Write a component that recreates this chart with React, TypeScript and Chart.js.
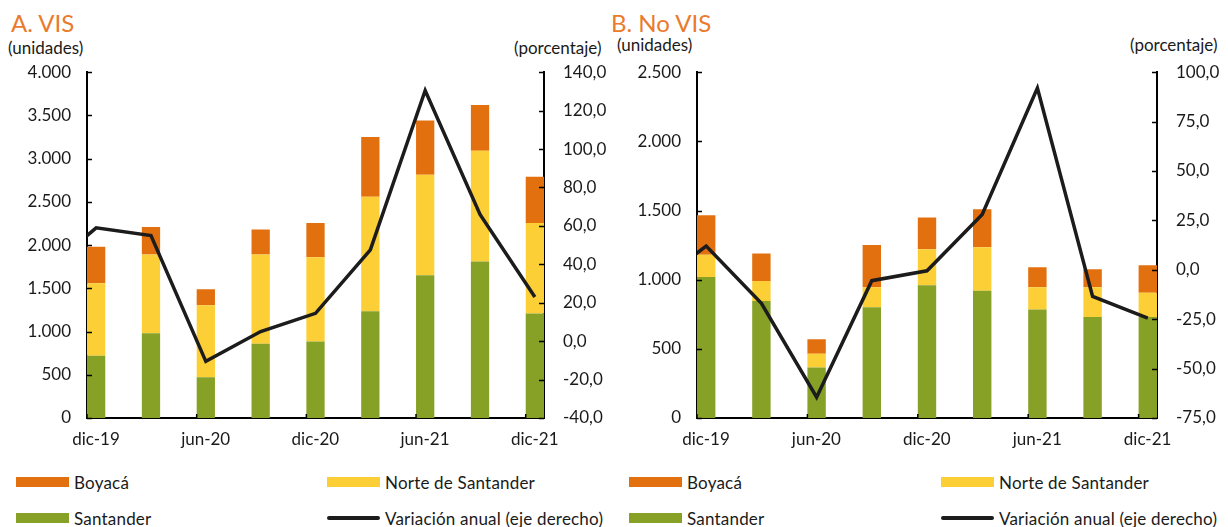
import React, { useEffect, useRef } from 'react';
import { Chart, registerables } from 'chart.js';

Chart.register(...registerables);

// ---------- data ----------
const categories = ['dic-19', 'mar-20', 'jun-20', 'sep-20', 'dic-20', 'mar-21', 'jun-21', 'sep-21', 'dic-21'];
// the variation line also has the previous quarter (drawn clipped at the left axis)
const variationCategories = ['sep-19', ...categories];
const xTickLabels = ['dic-19', 'jun-20', 'dic-20', 'jun-21', 'dic-21'];

const visSantander = [720, 980, 470, 860, 885, 1235, 1650, 1810, 1210];
const visNorte = [840, 910, 835, 1030, 975, 1325, 1165, 1280, 1045];
const visBoyaca = [420, 320, 185, 290, 395, 690, 625, 530, 535];
const visVariation = [34.5, 59, 55, -10.5, 5, 14.5, 47.5, 130.5, 66, 23];

const noVisSantander = [1020, 845, 365, 800, 960, 920, 785, 730, 730];
const noVisNorte = [160, 145, 100, 145, 260, 315, 160, 215, 175];
const noVisBoyaca = [285, 200, 105, 305, 230, 275, 145, 130, 200];
const noVisVariation = [-9, 12, -17, -64.5, -5.5, -0.5, 28, 92, -13.5, -24.5];

const seriesNames = ['Boyacá', 'Norte de Santander', 'Santander', 'Variación anual (eje derecho)'];

// ---------- styles ----------
const C_BOYACA = '#E3700F';
const C_NORTE = '#FDCF36';
const C_SANTANDER = '#87A126';
const C_LINE = '#1c1c1c';
const C_TITLE = '#EA7A2C';
const C_TEXT = '#1a1a1a';
const FONT = 'Lato, "Open Sans", sans-serif';

Chart.defaults.font.family = FONT;
Chart.defaults.font.size = 17;
Chart.defaults.color = C_TEXT;

const MONTHS = ['ene', 'feb', 'mar', 'abr', 'may', 'jun', 'jul', 'ago', 'sep', 'oct', 'nov', 'dic'];
function monthIndex(label: string): number {
  const [m, y] = label.split('-');
  return (2000 + Number(y)) * 12 + MONTHS.indexOf(m) - (2019 * 12 + 11);
}
const slotCenter = (label: string) => monthIndex(label) + 0.5;
const X_MIN = monthIndex(xTickLabels[0]);
const X_MAX = monthIndex(categories[categories.length - 1]) + 1;

const fmtThousands = (v: number) => String(Math.round(v)).replace(/\B(?=(\d{3})+(?!\d))/g, '.');
const fmtPct = (v: number) => Number(v).toFixed(1).replace('.', ',');

const innerTicks = {
  id: 'innerTicks',
  afterDraw(chart: any) {
    const ctx = chart.ctx;
    const { left, right, bottom } = chart.chartArea;
    const len = 5;
    ctx.save();
    ctx.strokeStyle = '#000';
    ctx.lineWidth = 1.5;
    ctx.beginPath();
    const y = chart.scales.y;
    y.ticks.forEach((_t: any, i: number) => {
      const p = Math.round(y.getPixelForTick(i)) + 0.5;
      ctx.moveTo(left, p);
      ctx.lineTo(left + len, p);
    });
    const y1 = chart.scales.y1;
    y1.ticks.forEach((_t: any, i: number) => {
      const p = Math.round(y1.getPixelForTick(i)) + 0.5;
      ctx.moveTo(right, p);
      ctx.lineTo(right - len, p);
    });
    const x = chart.scales.x;
    x.ticks.forEach((_t: any, i: number) => {
      const p = x.getPixelForTick(i);
      ctx.moveTo(p, bottom);
      ctx.lineTo(p, bottom - len + 1);
    });
    ctx.stroke();
    ctx.restore();
  },
};

type PanelProps = {
  left: number;
  title: string;
  santander: number[];
  norte: number[];
  boyaca: number[];
  variation: number[];
  yMax: number;
  yStep: number;
  y1Min: number;
  y1Max: number;
  y1Step: number;
  leftAxisWidth: number;
  rightAxisWidth: number;
  unitsTop: number;
  pctLeft: number;
  titleLeft: number;
  unitsLeft: number;
  legendCol1: number;
  legendCol2: number;
};

const CANVAS_W = 614;
const CANVAS_H = 415;
const CANVAS_TOP = 43;

function Panel(p: PanelProps) {
  const ref = useRef<HTMLCanvasElement>(null);
  useEffect(() => {
    if (!ref.current) return;
    const border = { display: true, color: '#000', width: 2 };
    const chart = new Chart(ref.current, {
      type: 'bar',
      data: {
        datasets: [
          {
            type: 'line',
            label: seriesNames[3],
            data: variationCategories.map((c, i) => ({ x: slotCenter(c), y: p.variation[i] })),
            yAxisID: 'y1',
            borderColor: C_LINE,
            backgroundColor: C_LINE,
            borderWidth: 3.5,
            pointRadius: 0,
            tension: 0,
            order: 0,
          } as any,
          {
            label: seriesNames[2],
            data: categories.map((c, i) => ({ x: slotCenter(c), y: p.santander[i] })),
            backgroundColor: C_SANTANDER,
            yAxisID: 'y',
            order: 1,
            barPercentage: 1,
            categoryPercentage: 1 / 3,
          },
          {
            label: seriesNames[1],
            data: categories.map((c, i) => ({ x: slotCenter(c), y: p.norte[i] })),
            backgroundColor: C_NORTE,
            yAxisID: 'y',
            order: 1,
            barPercentage: 1,
            categoryPercentage: 1 / 3,
          },
          {
            label: seriesNames[0],
            data: categories.map((c, i) => ({ x: slotCenter(c), y: p.boyaca[i] })),
            backgroundColor: C_BOYACA,
            yAxisID: 'y',
            order: 1,
            barPercentage: 1,
            categoryPercentage: 1 / 3,
          },
        ],
      },
      options: {
        animation: false,
        responsive: false,
        layout: { padding: { top: 0, left: 0, right: 0, bottom: 0 } },
        plugins: { legend: { display: false }, tooltip: { enabled: false } },
        scales: {
          x: {
            type: 'linear',
            min: X_MIN,
            max: X_MAX,
            offset: false,
            stacked: true,
            grid: { display: false, drawTicks: false, offset: false },
            border,
            afterBuildTicks: (s: any) => {
              s.ticks = xTickLabels.map((l) => ({ value: monthIndex(l) }));
            },
            afterFit: (s: any) => {
              s.height = 40;
            },
            ticks: {
              padding: 11,
              labelOffset: 9,
              autoSkip: false,
              maxRotation: 0,
              callback: (v: any) => {
                const l = xTickLabels.find((t) => monthIndex(t) === Number(v));
                return l ?? '';
              },
            },
          },
          y: {
            type: 'linear',
            position: 'left',
            stacked: true,
            min: 0,
            max: p.yMax,
            grid: { display: false, drawTicks: false },
            border,
            afterFit: (s: any) => {
              s.width = p.leftAxisWidth;
            },
            ticks: { stepSize: p.yStep, padding: 16, callback: (v: any) => fmtThousands(Number(v)) },
          },
          y1: {
            type: 'linear',
            position: 'right',
            min: p.y1Min,
            max: p.y1Max,
            grid: { display: false, drawTicks: false },
            border,
            afterFit: (s: any) => {
              s.width = p.rightAxisWidth;
            },
            ticks: { stepSize: p.y1Step, padding: 19, callback: (v: any) => fmtPct(Number(v)) },
          },
        },
      } as any,
      plugins: [innerTicks],
    });
    return () => chart.destroy();
  }, []);

  const legendItem = (x: number, cy: number, color: string, text: string, isLine = false) => (
    <div
      style={{
        position: 'absolute',
        left: x,
        top: cy - 12,
        height: 24,
        display: 'flex',
        alignItems: 'center',
        whiteSpace: 'nowrap',
      }}
    >
      <div
        style={{
          width: 53,
          height: isLine ? 4 : 10,
          borderRadius: isLine ? 2 : 0,
          background: color,
          marginRight: 5,
        }}
      />
      <span style={{ fontSize: 17, color: C_TEXT, letterSpacing: 0.2 }}>{text}</span>
    </div>
  );

  return (
    <>
      <div
        style={{
          position: 'absolute',
          left: p.titleLeft,
          top: 8,
          fontSize: 24,
          color: C_TITLE,
          whiteSpace: 'nowrap',
        }}
      >
        {p.title}
      </div>
      <div style={{ position: 'absolute', left: p.unitsLeft, top: p.unitsTop, fontSize: 17, color: C_TEXT }}>
        (unidades)
      </div>
      <div style={{ position: 'absolute', left: p.pctLeft, top: p.unitsTop, fontSize: 17, color: C_TEXT }}>
        (porcentaje)
      </div>
      <canvas
        ref={ref}
        width={CANVAS_W}
        height={CANVAS_H}
        style={{ position: 'absolute', left: p.left, top: CANVAS_TOP, width: CANVAS_W, height: CANVAS_H }}
      />
      {legendItem(p.legendCol1, 482, C_BOYACA, seriesNames[0])}
      {legendItem(p.legendCol2, 482, C_NORTE, seriesNames[1])}
      {legendItem(p.legendCol1, 518, C_SANTANDER, seriesNames[2])}
      {legendItem(p.legendCol2, 518, C_LINE, seriesNames[3], true)}
    </>
  );
}

export default function App() {
  return (
    <div
      style={{
        position: 'absolute',
        left: 0,
        top: 0,
        width: 1228,
        height: 527,
        background: '#fff',
        fontFamily: FONT,
        overflow: 'hidden',
      }}
    >
      <Panel
        left={0}
        title="A. VIS"
        santander={visSantander}
        norte={visNorte}
        boyaca={visBoyaca}
        variation={visVariation}
        yMax={4000}
        yStep={500}
        y1Min={-40}
        y1Max={140}
        y1Step={20}
        leftAxisWidth={87}
        rightAxisWidth={70}
        unitsTop={37}
        titleLeft={11}
        unitsLeft={8}
        pctLeft={514}
        legendCol1={16}
        legendCol2={327}
      />
      <Panel
        left={614}
        title="B. No VIS"
        santander={noVisSantander}
        norte={noVisNorte}
        boyaca={noVisBoyaca}
        variation={noVisVariation}
        yMax={2500}
        yStep={500}
        y1Min={-75}
        y1Max={100}
        y1Step={25}
        leftAxisWidth={83}
        rightAxisWidth={71}
        unitsTop={34}
        titleLeft={611}
        unitsLeft={617}
        pctLeft={1130}
        legendCol1={629}
        legendCol2={941}
      />
    </div>
  );
}
